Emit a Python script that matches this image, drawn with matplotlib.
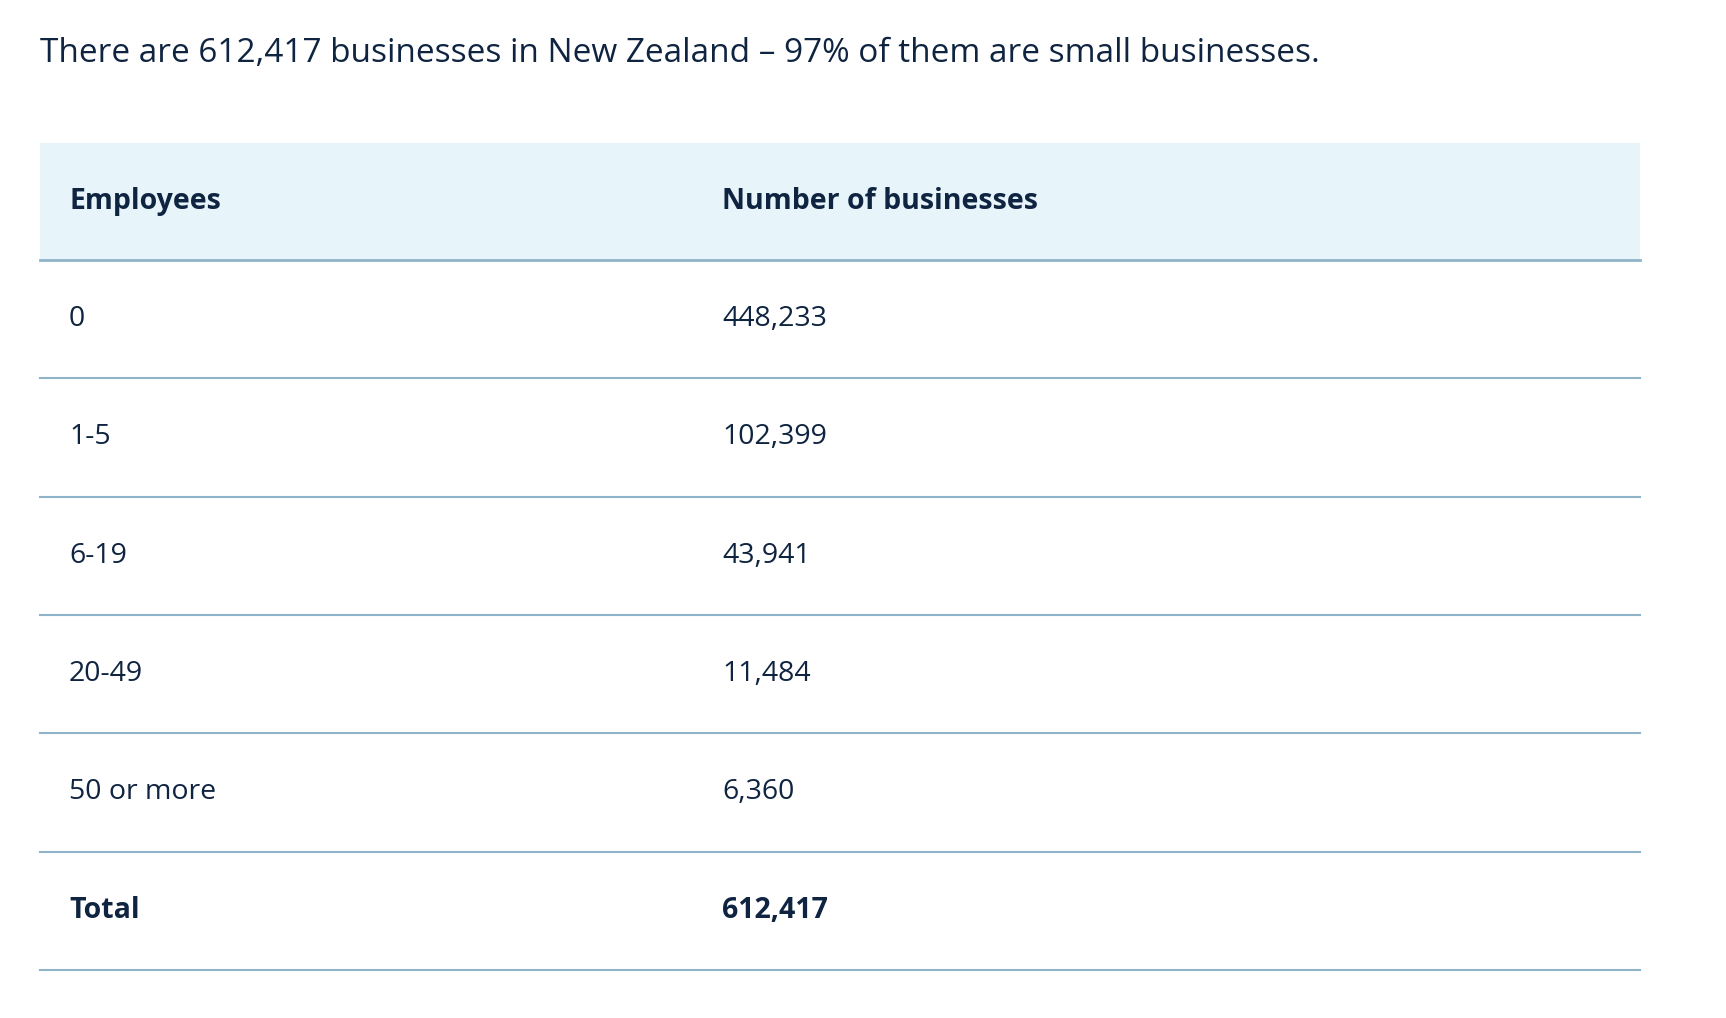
import matplotlib.pyplot as plt
from matplotlib.patches import Rectangle

# table contents
title = "There are 612,417 businesses in New Zealand – 97% of them are small businesses."
headers = ["Employees", "Number of businesses"]
employees = ["0", "1-5", "6-19", "20-49", "50 or more"]
businesses = [448233, 102399, 43941, 11484, 6360]
total_label = "Total"
total_value = 612417

plt.rcParams['font.family'] = ['Open Sans', 'DejaVu Sans']
txt = '#0f2440'
line_c = '#8fb4c9'

fig = plt.figure(figsize=(17.26, 10.18), dpi=100)
ax = fig.add_axes([0, 0, 1, 1])
ax.set_xlim(0, 1726)
ax.set_ylim(1018, 0)
ax.axis('off')

left, right = 40, 1640
col_x = [69, 722]
head_top, head_h = 143, 117
row_h = 118.3

ax.text(40, 53, title, fontsize=24, color=txt, va='center', ha='left')

ax.add_patch(Rectangle((left, head_top), right - left, head_h, color='#e7f4fa', lw=0))
for x, h in zip(col_x, headers):
    ax.text(x, head_top + head_h / 2, h, fontsize=20.5, fontweight='bold', color=txt, va='center')
y0 = head_top + head_h
ax.plot([left, right], [y0, y0], color=line_c, lw=2)

rows = [(e, f"{b:,}", 'normal') for e, b in zip(employees, businesses)]
rows.append((total_label, f"{total_value:,}", 'bold'))
for i, (e, b, w) in enumerate(rows):
    yc = y0 + row_h * (i + 0.5)
    ax.text(col_x[0], yc, e, fontsize=20.5, fontweight=w, color=txt, va='center')
    ax.text(col_x[1], yc, b, fontsize=20.5, fontweight=w, color=txt, va='center')
    yl = y0 + row_h * (i + 1)
    ax.plot([left, right], [yl, yl], color=line_c, lw=1.5)

fig.savefig('out.png', dpi=100)
